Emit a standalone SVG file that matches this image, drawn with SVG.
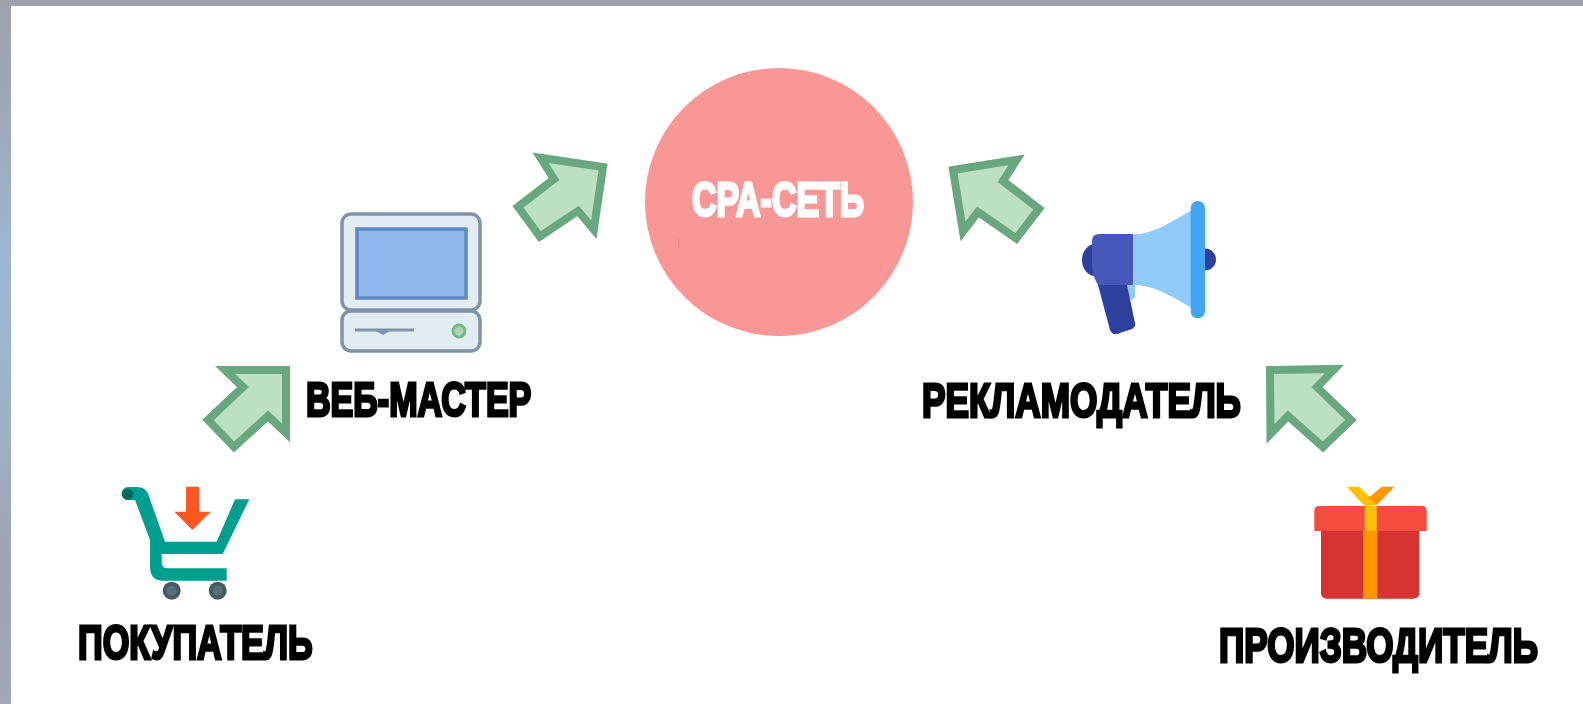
<svg xmlns="http://www.w3.org/2000/svg" width="1583" height="704" viewBox="0 0 1583 704">
<style>
.lbl{font-family:"Liberation Sans",Arial,sans-serif;font-weight:700;font-size:48px;fill:#000;stroke:#000;stroke-width:2.6;stroke-linejoin:miter;vector-effect:non-scaling-stroke}
.lbl-w{fill:#fff;stroke:#fff}
.arrow{fill:#bde0c1;stroke:#69a77f;stroke-width:8;stroke-miterlimit:12;stroke-linejoin:miter}
.pc{fill:#e3ebf3;stroke:#7f93ad;stroke-width:3.5}
</style>
<defs>
<linearGradient id="edge" x1="0" y1="0" x2="0" y2="1">
<stop offset="0" stop-color="#a0a1ac"/><stop offset="0.2" stop-color="#9eabbd"/><stop offset="0.38" stop-color="#9db6d4"/><stop offset="0.6" stop-color="#9eb2c6"/><stop offset="0.8" stop-color="#a0a3b2"/><stop offset="1" stop-color="#a3a8b8"/>
</linearGradient>
<filter id="soft" x="-5%" y="-5%" width="110%" height="110%" color-interpolation-filters="sRGB"><feGaussianBlur stdDeviation="0.7"/></filter>
</defs>
<rect id="frame" width="1583" height="704" fill="url(#edge)"/>
<rect x="0" y="0" width="1583" height="6" fill="#a0a1ac"/>
<rect x="11" y="6" width="1572" height="698" fill="#fff"/>

<g filter="url(#soft)">
<g id="connectors">
<polygon class="arrow" points="286,370 225,370 243,387 208,420 234,447 268,416 286,433"/>
<polygon class="arrow" points="603,167 540.6,157.800 554,179 518,206.800 539.800,236.500 578,211 593.800,229.700"/>
<polygon class="arrow" points="953,170 1016.600,159.900 1003,181 1039,208.800 1016.300,238.500 978,212 963,231.500"/>
<polygon class="arrow" points="1270,370 1334.500,369 1317,387 1351,420 1323,447 1288,416 1270.500,434"/>
</g>

<g id="cpa-network">
<circle cx="779" cy="202" r="134" fill="#f99696"/>
<rect x="678" y="239" width="1.500" height="9" fill="#ec8c8c"/>
<text class="lbl lbl-w" transform="translate(692 215.500) scale(.72 1)" textLength="239" lengthAdjust="spacingAndGlyphs">СРА-СЕТЬ</text>
</g>

<g id="webmaster">
<rect class="pc" x="342" y="214" width="138" height="96" rx="9"/>
<rect class="pc" x="342" y="311" width="138" height="40" rx="9"/>
<rect x="357" y="229" width="109" height="69" fill="#8fb9ee" stroke="#5f89c4" stroke-width="3.500"/>
<path d="M355 330H414" stroke="#7f93ad" stroke-width="3" fill="none"/>
<path d="M376 331H390L383 335Z" fill="#7f93ad"/>
<circle cx="459" cy="331" r="6" fill="#b5cdbb" stroke="#73bb85" stroke-width="3"/>
<text class="lbl" transform="translate(306 415.500) scale(.72 1)" textLength="313" lengthAdjust="spacingAndGlyphs">ВЕБ-МАСТЕР</text>
</g>

<g id="buyer">
<path d="M128 487H137Q146 487 148.500 495L165 541.700H216.700L235 499.300H249.300L222.700 554H161.700V563Q161.700 568.300 168.300 568.300H226.700V580.700H163.300Q150 580.700 150 566.700V540L135 500Q133 500 128 500A6.500 6.500 0 0 1 128 487Z" fill="#009e8e"/>
<circle cx="127.700" cy="494.300" r="5.500" fill="#00695c"/>
<path d="M186 486.700H199V511.700H210.700L192.300 530L174.300 511.700H186Z" fill="#ff5722"/>
<circle cx="171.700" cy="590.700" r="9" fill="#455a64"/>
<circle cx="217.700" cy="590.700" r="9" fill="#455a64"/>
<circle cx="171.700" cy="590.700" r="5" fill="#546e7a"/>
<circle cx="217.700" cy="590.700" r="5" fill="#546e7a"/>
<text class="lbl" transform="translate(78 658.500) scale(.72 1)" textLength="326" lengthAdjust="spacingAndGlyphs">ПОКУПАТЕЛЬ</text>
</g>

<g id="advertiser">
<ellipse cx="1095" cy="260" rx="13" ry="16" fill="#303f9f"/>
<path d="M1205 248.500A11 11 0 0 1 1205 270.500Z" fill="#303f9f"/>
<path d="M1127 285H1135V296Q1135 300 1129 300Z" fill="#90caf9"/>
<path d="M1133 234.300C1155 234 1170 222 1192 210V308C1170 296 1155 285 1133 285Z" fill="#90caf9"/>
<path d="M1099 234H1133V285H1098Q1092 275 1092 265V241Q1092 234 1099 234Z" fill="#4758b8"/>
<path d="M1098 285H1127L1135 323Q1136 327 1132 329L1117 334Q1112 335 1110 330Z" fill="#2e3f9e"/>
<rect x="1190.700" y="201" width="14.300" height="117.300" rx="7" fill="#42a5f5"/>
<text class="lbl" transform="translate(922 416.500) scale(.72 1)" textLength="443" lengthAdjust="spacingAndGlyphs">РЕКЛАМОДАТЕЛЬ</text>
</g>

<g id="producer">
<path d="M1346.700 486.700H1359.300L1370.700 498L1376.700 505L1364.700 506Z" fill="#ffc107"/>
<path d="M1381.700 486.700H1394.300L1376.700 505L1368.300 498Z" fill="#ff9800"/>
<path d="M1321 531H1419.300V593Q1419.300 598.700 1413 598.700H1327Q1321 598.700 1321 593Z" fill="#d63333"/>
<path d="M1319 506H1422Q1426.700 506 1426.700 511V531H1314.300V511Q1314.300 506 1319 506Z" fill="#f44c3f"/>
<rect x="1363.300" y="531" width="14" height="67.700" fill="#ff9800"/>
<rect x="1364.700" y="506" width="12" height="25" fill="#ffc107"/>
<text class="lbl" transform="translate(1219 661.500) scale(.72 1)" textLength="443" lengthAdjust="spacingAndGlyphs">ПРОИЗВОДИТЕЛЬ</text>
</g>
</g>
</svg>
